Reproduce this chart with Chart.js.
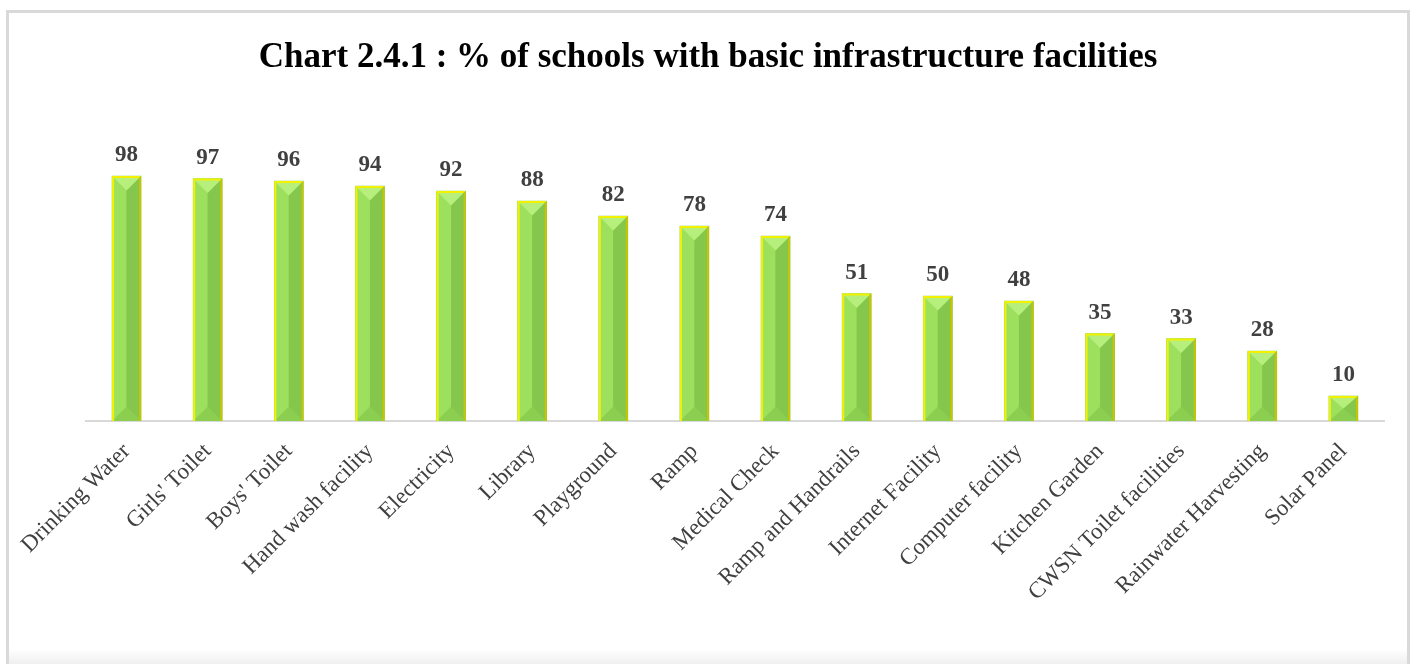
<!DOCTYPE html>
<html>
<head>
<meta charset="utf-8">
<script src="https://cdn.jsdelivr.net/npm/chart.js@4"></script>
<style>
  html, body { margin: 0; padding: 0; background: #ffffff; }
  body { width: 1416px; height: 664px; position: relative; overflow: hidden; }
  #frame {
    position: absolute; left: 6px; top: 10px; width: 1398px; height: 660px;
    border: 3px solid #d9d9d9; border-bottom: none; box-sizing: content-box;
    background: linear-gradient(to bottom, #ffffff 0px, #ffffff 636px, #ececec 654px);
  }
  #c { position: absolute; left: 0; top: 0; }
</style>
</head>
<body>
<div id="frame"></div>
<canvas id="c" width="1416" height="664"></canvas>
<script>
const categories = [
  "Drinking Water", "Girls' Toilet", "Boys' Toilet", "Hand wash facility",
  "Electricity", "Library", "Playground", "Ramp", "Medical Check",
  "Ramp and Handrails", "Internet Facility", "Computer facility",
  "Kitchen Garden", "CWSN Toilet facilities", "Rainwater Harvesting", "Solar Panel"
];
const values = [98, 97, 96, 94, 92, 88, 82, 78, 74, 51, 50, 48, 35, 33, 28, 10];
const titleText = "Chart 2.4.1 : % of schools with basic infrastructure facilities";

const bevelPlugin = {
  id: 'bevel',
  afterDatasetsDraw(chart) {
    const ctx = chart.ctx;
    const meta = chart.getDatasetMeta(0);
    meta.data.forEach((el, i) => {
      const p = el.getProps(['x', 'y', 'base', 'width'], true);
      const l = p.x - p.width / 2, r = p.x + p.width / 2;
      const t = p.y, b = p.base;
      const h = b - t;
      const d = Math.min(p.width / 2, h / 2);
      ctx.save();
      ctx.fillStyle = '#9de05e';
      ctx.fillRect(l, t, p.width / 2, h);
      ctx.fillStyle = '#85c64c';
      ctx.fillRect(p.x, t, p.width / 2, h);
      ctx.fillStyle = '#b6ef7c';
      ctx.beginPath();
      ctx.moveTo(l, t); ctx.lineTo(r, t); ctx.lineTo(p.x, t + d); ctx.closePath();
      ctx.fill();
      ctx.fillStyle = '#8ccf50';
      ctx.beginPath();
      ctx.moveTo(l, b); ctx.lineTo(r, b); ctx.lineTo(p.x, b - d); ctx.closePath();
      ctx.fill();
      ctx.lineWidth = 2;
      ctx.strokeStyle = '#f2f200';
      ctx.beginPath();
      ctx.moveTo(l + 1, b); ctx.lineTo(l + 1, t + 1); ctx.lineTo(r - 1, t + 1);
      ctx.stroke();
      ctx.strokeStyle = '#c8c400';
      ctx.beginPath();
      ctx.moveTo(r - 1, t + 1); ctx.lineTo(r - 1, b);
      ctx.stroke();
      ctx.fillStyle = '#404040';
      ctx.font = 'bold 23px "Liberation Serif", "Times New Roman", serif';
      ctx.textAlign = 'center';
      ctx.textBaseline = 'alphabetic';
      ctx.fillText(String(values[i]), p.x, t - 15);
      ctx.restore();
    });
  }
};

new Chart(document.getElementById('c'), {
  type: 'bar',
  data: {
    labels: categories,
    datasets: [{
      data: values,
      backgroundColor: '#92d050',
      borderWidth: 0,
      barThickness: 29
    }]
  },
  options: {
    responsive: false,
    animation: false,
    layout: { padding: { left: 32, right: 32, top: 0, bottom: 0 } },
    plugins: {
      legend: { display: false },
      tooltip: { enabled: false },
      title: {
        display: true,
        text: titleText,
        color: '#000000',
        font: { family: '"Liberation Serif", "Times New Roman", serif', size: 35, weight: 'bold' },
        padding: { top: 37, bottom: 92 }
      }
    },
    scales: {
      x: {
        grid: { display: false, drawTicks: false },
        border: { display: true, color: '#d9d9d9', width: 2 },
        ticks: {
          color: '#404040',
          font: { family: '"Liberation Serif", "Times New Roman", serif', size: 23 },
          minRotation: 45, maxRotation: 45,
          autoSkip: false,
          padding: 17
        },
        afterFit(scale) { scale.height = 243; }
      },
      y: {
        display: true,
        min: 0, max: 100,
        grid: { display: false, drawTicks: false },
        border: { display: false },
        ticks: { display: false },
        afterFit(scale) { scale.width = 54; }
      }
    }
  },
  plugins: [bevelPlugin]
});
</script>
</body>
</html>
